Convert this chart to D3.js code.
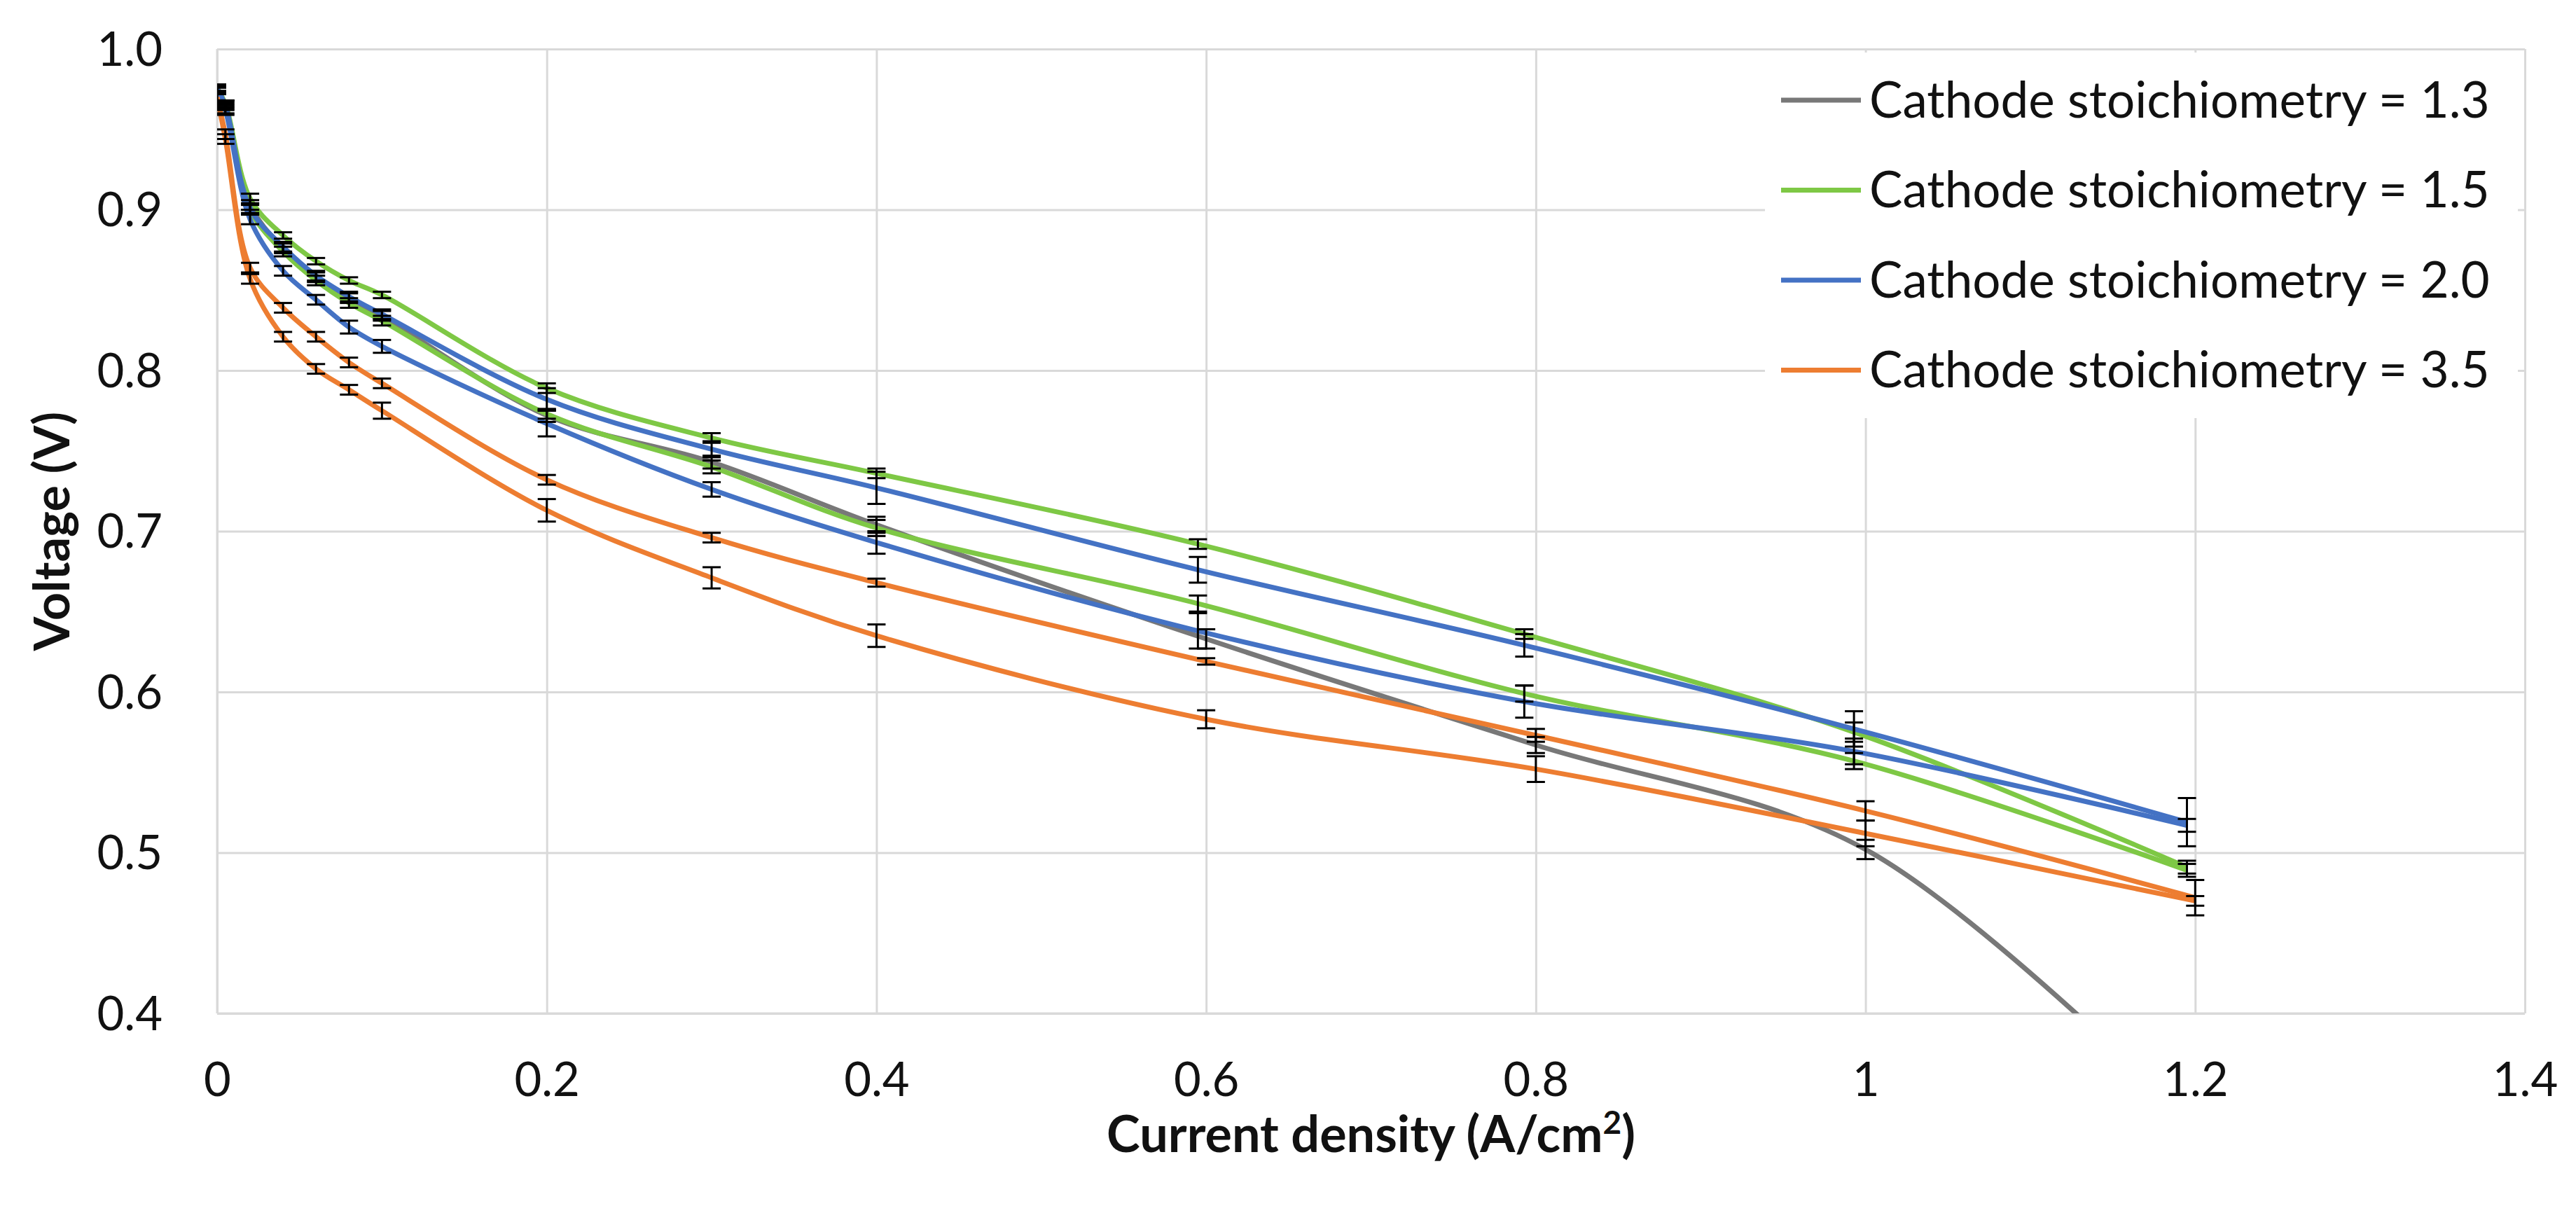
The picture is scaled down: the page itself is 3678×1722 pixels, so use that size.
<!DOCTYPE html>
<html>
<head>
<meta charset="utf-8">
<script src="https://cdn.jsdelivr.net/npm/d3@7"></script>
<style>
  body { margin: 0; background: #fff; }
  svg { display: block; font-family: Lato, "Open Sans", sans-serif; }
</style>
</head>
<body>
<svg id="chart"></svg>
<script>
// current density points (A/cm2)
const xNominal = [0, 0.005, 0.02, 0.04, 0.06, 0.08, 0.1, 0.2, 0.3, 0.4, 0.6, 0.8, 1.0, 1.2];
const xShifted = [0, 0.005, 0.02, 0.04, 0.06, 0.08, 0.1, 0.2, 0.3, 0.4, 0.595, 0.793, 0.993, 1.195];

// voltages (V), two runs per stoichiometry except 1.3
const v13 = [0.976, 0.965, 0.903, 0.876, 0.858, 0.845, 0.834, 0.772, 0.743, 0.704, 0.633, 0.567, 0.502, 0.33];
const v15a = [0.975, 0.966, 0.907, 0.884, 0.868, 0.856, 0.847, 0.789, 0.758, 0.736, 0.692, 0.636, 0.575, 0.491];
const v15b = [0.974, 0.963, 0.900, 0.874, 0.856, 0.842, 0.831, 0.773, 0.740, 0.702, 0.655, 0.599, 0.557, 0.489];
const v20a = [0.975, 0.965, 0.901, 0.877, 0.859, 0.846, 0.835, 0.782, 0.751, 0.727, 0.676, 0.629, 0.577, 0.519];
const v20b = [0.974, 0.962, 0.894, 0.862, 0.844, 0.827, 0.815, 0.767, 0.726, 0.693, 0.638, 0.594, 0.563, 0.517];
const v35a = [0.970, 0.947, 0.864, 0.839, 0.821, 0.805, 0.792, 0.732, 0.696, 0.668, 0.619, 0.573, 0.526, 0.472];
const v35b = [0.970, 0.944, 0.857, 0.821, 0.801, 0.788, 0.775, 0.713, 0.671, 0.635, 0.583, 0.552, 0.512, 0.470];

// error bar half-widths (V)
const e13 = [0.002, 0.003, 0.003, 0.003, 0.003, 0.003, 0.003, 0.004, 0.004, 0.005, 0.006, 0.005, 0.006, 0.01];
const e15a = [0.002, 0.002, 0.003, 0.002, 0.002, 0.002, 0.002, 0.003, 0.003, 0.003, 0.003, 0.003, 0.006, 0.004];
const e15b = [0.002, 0.003, 0.003, 0.003, 0.003, 0.003, 0.003, 0.003, 0.004, 0.005, 0.005, 0.005, 0.005, 0.004];
const e20a = [0.002, 0.002, 0.003, 0.003, 0.003, 0.003, 0.003, 0.007, 0.005, 0.01, 0.008, 0.007, 0.011, 0.015];
const e20b = [0.002, 0.003, 0.003, 0.003, 0.003, 0.004, 0.004, 0.008, 0.0045, 0.007, 0.011, 0.01, 0.008, 0.004];
const e35a = [0.002, 0.003, 0.003, 0.003, 0.003, 0.003, 0.003, 0.003, 0.003, 0.0025, 0.002, 0.004, 0.006, 0.011];
const e35b = [0.002, 0.003, 0.003, 0.003, 0.003, 0.003, 0.005, 0.007, 0.0066, 0.007, 0.0056, 0.008, 0.008, 0.003];

const legendLabels = ["Cathode stoichiometry = 1.3", "Cathode stoichiometry = 1.5",
                      "Cathode stoichiometry = 2.0", "Cathode stoichiometry = 3.5"];
const colors = ["#787878", "#7ec845", "#4472c4", "#ed7d31"];

const xTicks = [0, 0.2, 0.4, 0.6, 0.8, 1, 1.2, 1.4];
const yTicks = [0.4, 0.5, 0.6, 0.7, 0.8, 0.9, 1.0];

// build series table
const runs = [
    { xs: xNominal, vs: v13, es: e13, c: 0 },
    { xs: xShifted, vs: v15a, es: e15a, c: 1 },
    { xs: xShifted, vs: v15b, es: e15b, c: 1 },
    { xs: xShifted, vs: v20a, es: e20a, c: 2 },
    { xs: xShifted, vs: v20b, es: e20b, c: 2 },
    { xs: xNominal, vs: v35a, es: e35a, c: 3 },
    { xs: xNominal, vs: v35b, es: e35b, c: 3 },
].map(r => ({
    color: colors[r.c],
    points: r.xs.map((x, i) => ({ x: x, v: r.vs[i], e: r.es[i] })),
}));

const W = 3678, H = 1722;
const margin = { top: 70, right: 73, bottom: 275, left: 310 };
const width = W - margin.left - margin.right;
const height = H - margin.top - margin.bottom;

const svg = d3.select("#chart").attr("width", W).attr("height", H);
svg.append("rect").attr("width", W).attr("height", H).attr("fill", "#fff");

const g = svg.append("g").attr("transform", "translate(" + margin.left + "," + margin.top + ")");

const x = d3.scaleLinear().domain([0, 1.4]).range([0, width]);
const y = d3.scaleLinear().domain([0.4, 1.0]).range([height, 0]);

// gridlines + tick labels
const gx = g.append("g")
    .attr("transform", "translate(0," + height + ")")
    .call(d3.axisBottom(x).tickValues(xTicks).tickSize(-height).tickSizeOuter(0)
        .tickFormat(d => d3.format("~g")(d)));
const gy = g.append("g")
    .call(d3.axisLeft(y).tickValues(yTicks).tickSize(-width).tickSizeOuter(0)
        .tickFormat(d3.format(".1f")));

[gx, gy].forEach(a => {
    a.select(".domain").remove();
    a.selectAll(".tick line").attr("stroke", "#d9d9d9").attr("stroke-width", 3);
    a.selectAll(".tick text").attr("font-size", 67).attr("fill", "#111")
        .attr("font-family", "Lato, sans-serif");
});
gx.selectAll(".tick text").attr("y", 95).attr("dy", "0.35em");
gy.selectAll(".tick text").attr("x", -78).attr("dy", "0.35em");

// bottom/left frame
g.append("line").attr("x1", 0).attr("x2", width).attr("y1", height).attr("y2", height)
    .attr("stroke", "#d9d9d9").attr("stroke-width", 3);
g.append("line").attr("x1", 0).attr("x2", 0).attr("y1", 0).attr("y2", height)
    .attr("stroke", "#d9d9d9").attr("stroke-width", 3);

// legend box (covers gridlines)
const legend = g.append("g").attr("transform", "translate(" + (2520 - margin.left) + "," + (75 - margin.top) + ")");
legend.append("rect").attr("width", 1075).attr("height", 522).attr("fill", "#fff");
legendLabels.forEach((lab, i) => {
    const ly = 68 + i * 128.5;
    legend.append("line").attr("x1", 23).attr("x2", 137).attr("y1", ly).attr("y2", ly)
        .attr("stroke", colors[i]).attr("stroke-width", 7);
    legend.append("text").attr("x", 149).attr("y", ly).attr("dy", "0.35em")
        .attr("font-size", 71).attr("fill", "#111").text(lab);
});

// data
g.append("clipPath").attr("id", "clip").append("rect")
    .attr("width", width).attr("height", height);
const plot = g.append("g").attr("clip-path", "url(#clip)");

const line = d3.line()
    .x(d => x(d.x))
    .y(d => y(d.v))
    .curve(d3.curveCatmullRom.alpha(0.5));

plot.selectAll(".run").data(runs).enter().append("path")
    .attr("class", "run")
    .attr("d", d => line(d.points))
    .attr("fill", "none")
    .attr("stroke", d => d.color)
    .attr("stroke-width", 7)
    .attr("stroke-linejoin", "round");

// error bars
const cap = 13;
runs.forEach(r => {
    const eb = plot.append("g").selectAll("g").data(r.points).enter().append("g")
        .attr("stroke", "#000").attr("stroke-width", 3);
    eb.append("line")
        .attr("x1", d => x(d.x)).attr("x2", d => x(d.x))
        .attr("y1", d => y(d.v - d.e)).attr("y2", d => y(d.v + d.e));
    eb.append("line")
        .attr("x1", d => x(d.x) - cap).attr("x2", d => x(d.x) + cap)
        .attr("y1", d => y(d.v + d.e)).attr("y2", d => y(d.v + d.e));
    eb.append("line")
        .attr("x1", d => x(d.x) - cap).attr("x2", d => x(d.x) + cap)
        .attr("y1", d => y(d.v - d.e)).attr("y2", d => y(d.v - d.e));
});

// axis titles
const xTitle = svg.append("text")
    .attr("x", margin.left + width / 2).attr("y", 1645)
    .attr("text-anchor", "middle").attr("font-size", 72).attr("font-weight", "bold")
    .attr("fill", "#111");
xTitle.append("tspan").text("Current density (A/cm");
xTitle.append("tspan").attr("font-size", 46).attr("dy", -26).text("2");
xTitle.append("tspan").attr("dy", 26).text(")");

svg.append("text")
    .attr("transform", "translate(99," + (margin.top + height / 2) + ") rotate(-90)")
    .attr("text-anchor", "middle").attr("font-size", 70).attr("font-weight", "bold")
    .attr("fill", "#111")
    .text("Voltage (V)");
</script>
</body>
</html>
